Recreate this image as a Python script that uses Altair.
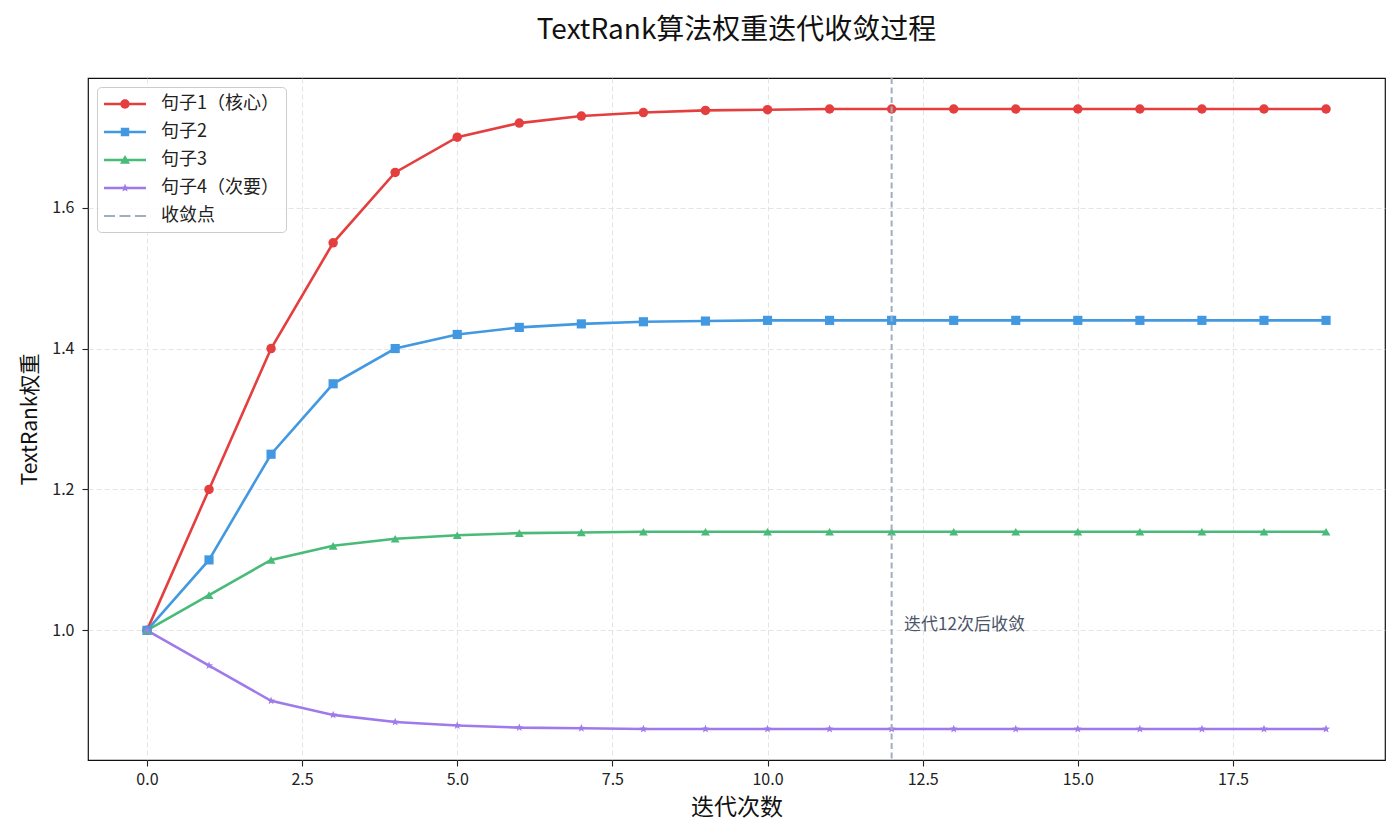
import math
import altair as alt
import pandas as pd

# ---------------- data ----------------
iterations = list(range(20))
series_names = ["句子1（核心）", "句子2", "句子3", "句子4（次要）"]
s1 = [1.0, 1.2, 1.4, 1.55, 1.65, 1.70, 1.72, 1.73, 1.735, 1.738, 1.739, 1.74, 1.74, 1.74, 1.74, 1.74, 1.74, 1.74, 1.74, 1.74]
s2 = [1.0, 1.1, 1.25, 1.35, 1.40, 1.42, 1.43, 1.435, 1.438, 1.439, 1.44, 1.44, 1.44, 1.44, 1.44, 1.44, 1.44, 1.44, 1.44, 1.44]
s3 = [1.0, 1.05, 1.10, 1.12, 1.13, 1.135, 1.138, 1.139, 1.14, 1.14, 1.14, 1.14, 1.14, 1.14, 1.14, 1.14, 1.14, 1.14, 1.14, 1.14]
s4 = [1.0, 0.95, 0.90, 0.88, 0.87, 0.865, 0.862, 0.861, 0.86, 0.86, 0.86, 0.86, 0.86, 0.86, 0.86, 0.86, 0.86, 0.86, 0.86, 0.86]
conv_label = "收敛点"
conv_iter = [12]
note_x = [12.2]
note_y = [1.0]
note_text = ["迭代12次后收敛"]
x_ticks = [0, 2.5, 5, 7.5, 10, 12.5, 15, 17.5]
y_ticks = [1.0, 1.2, 1.4, 1.6]

colors = ["#e53e3e", "#4299e1", "#48bb78", "#9f7aea", "#a0aec0"]
FONT = "Noto Sans CJK SC"

rows = []
for name, vals in zip(series_names, [s1, s2, s3, s4]):
    for it, v in zip(iterations, vals):
        rows.append({"iter": it, "weight": v, "series": name})
df = pd.DataFrame(rows)
all_names = series_names + [conv_label]
legend_df = pd.DataFrame({"series": all_names})


# ---------------- shapes ----------------
def star(cx, cy, ro, ri):
    pts = []
    for k in range(10):
        a = math.radians(-90 + k * 36)
        r = ro if k % 2 == 0 else ri
        pts.append((cx + r * math.cos(a), cy + r * math.sin(a)))
    return "M" + " L".join(f"{x:.3f},{y:.3f}" for x, y in pts) + " Z"


star_unit = star(0, 0, 1.0, 0.42)

# legend glyphs: line segment + marker (units of 10px)
bar = "M-1,-0.13 H3.2 V0.13 H-1 Z"
cx = 1.1
r = 0.47
leg_circle = bar + f" M{cx - r},0 A{r},{r} 0 1,1 {cx + r},0 A{r},{r} 0 1,1 {cx - r},0 Z"
leg_square = bar + f" M{cx - 0.42},-0.42 H{cx + 0.42} V0.42 H{cx - 0.42} Z"
leg_tri = bar + f" M{cx},-0.5 L{cx + 0.5},0.38 L{cx - 0.5},0.38 Z"
leg_star = bar + " " + star(cx, 0, 0.44, 0.19)
leg_dash = ("M-1,-0.1 H0.1 V0.1 H-1 Z M0.55,-0.1 H1.65 V0.1 H0.55 Z "
            "M2.1,-0.1 H3.2 V0.1 H2.1 Z")
leg_paths = [leg_circle, leg_square, leg_tri, leg_star, leg_dash]

color_scale = alt.Scale(domain=all_names, range=colors)

x_enc = alt.X(
    "iter:Q",
    scale=alt.Scale(domain=[-0.95, 19.95], nice=False, zero=False),
    axis=alt.Axis(values=x_ticks, format=".1f", title="迭代次数"),
)
y_enc = alt.Y(
    "weight:Q",
    scale=alt.Scale(domain=[0.816, 1.784], nice=False, zero=False),
    axis=alt.Axis(values=y_ticks, format=".1f", title="TextRank权重"),
)

base = alt.Chart(df)

lines = base.mark_line(strokeWidth=2.6).encode(
    x=x_enc, y=y_enc,
    color=alt.Color("series:N", scale=color_scale, legend=None),
    detail="series:N",
)

points = base.mark_point(filled=True, opacity=1).encode(
    x=x_enc,
    y=y_enc,
    color=alt.Color("series:N", scale=color_scale, legend=None),
    shape=alt.Shape(
        "series:N",
        scale=alt.Scale(domain=series_names,
                        range=["circle", "square", "triangle-up", star_unit]),
        legend=None,
    ),
    size=alt.Size(
        "series:N",
        scale=alt.Scale(domain=series_names, range=[90, 72, 80, 42]),
        legend=None,
    ),
)

rule = alt.Chart(pd.DataFrame({"iter": conv_iter})).mark_rule(
    color="#a0aec0", strokeWidth=2, strokeDash=[6, 3.5]
).encode(x=alt.X("iter:Q"))

note = alt.Chart(pd.DataFrame({"x": note_x, "y": note_y, "t": note_text})).mark_text(
    align="left", baseline="alphabetic", font=FONT, fontSize=17, color="#4a5568"
).encode(x=alt.X("x:Q"), y=alt.Y("y:Q"), text="t:N")

legend = alt.Legend(
    title=None,
    orient="top-left",
    offset=9,
    padding=7,
    symbolSize=400,
    symbolStrokeWidth=0,
    symbolOpacity=1,
    labelOffset=37,
    rowPadding=9,
    labelFont=FONT,
    labelFontSize=18,
    labelColor="#222222",
    fillColor="rgba(255,255,255,0.85)",
    strokeColor="#cccccc",
    cornerRadius=4,
)

legend_layer = (
    alt.Chart(legend_df)
    .transform_filter("false")
    .mark_point(filled=True, opacity=1, size=400)
    .encode(
        color=alt.Color("series:N", scale=color_scale, legend=legend),
        shape=alt.Shape("series:N",
                        scale=alt.Scale(domain=all_names, range=leg_paths),
                        legend=legend),
    )
)

chart = (
    alt.layer(lines, points, rule, note, legend_layer)
    .resolve_scale(color="independent", shape="independent", size="independent")
    .properties(
        width=1297,
        height=682,
        autosize=alt.AutoSizeParams(type="none"),
        padding={"left": 80, "top": 70, "right": 7, "bottom": 66},
        title=alt.TitleParams(
            "TextRank算法权重迭代收敛过程",
            font=FONT,
            fontSize=28,
            fontWeight="normal",
            color="#111111",
            anchor="middle",
            offset=32,
        ),
    )
    .configure_view(stroke="#111111", strokeWidth=1.2)
    .configure_axis(
        labelFont=FONT,
        labelFontSize=16,
        labelColor="#222222",
        titleFont=FONT,
        titleFontSize=23,
        titleFontWeight="normal",
        titleColor="#111111",
        domain=False,
        tickColor="#222222",
        tickSize=6,
        tickWidth=1.1,
        grid=True,
        gridColor="#d9d9d9",
        gridDash=[5, 3],
        gridWidth=0.9,
        gridOpacity=0.8,
    )
    .configure_axisX(labelPadding=5, titlePadding=9)
    .configure_axisY(labelPadding=8, titlePadding=11, titleFontSize=21)
)

chart.save("out.html", embed_options={"renderer": "svg", "actions": False})
